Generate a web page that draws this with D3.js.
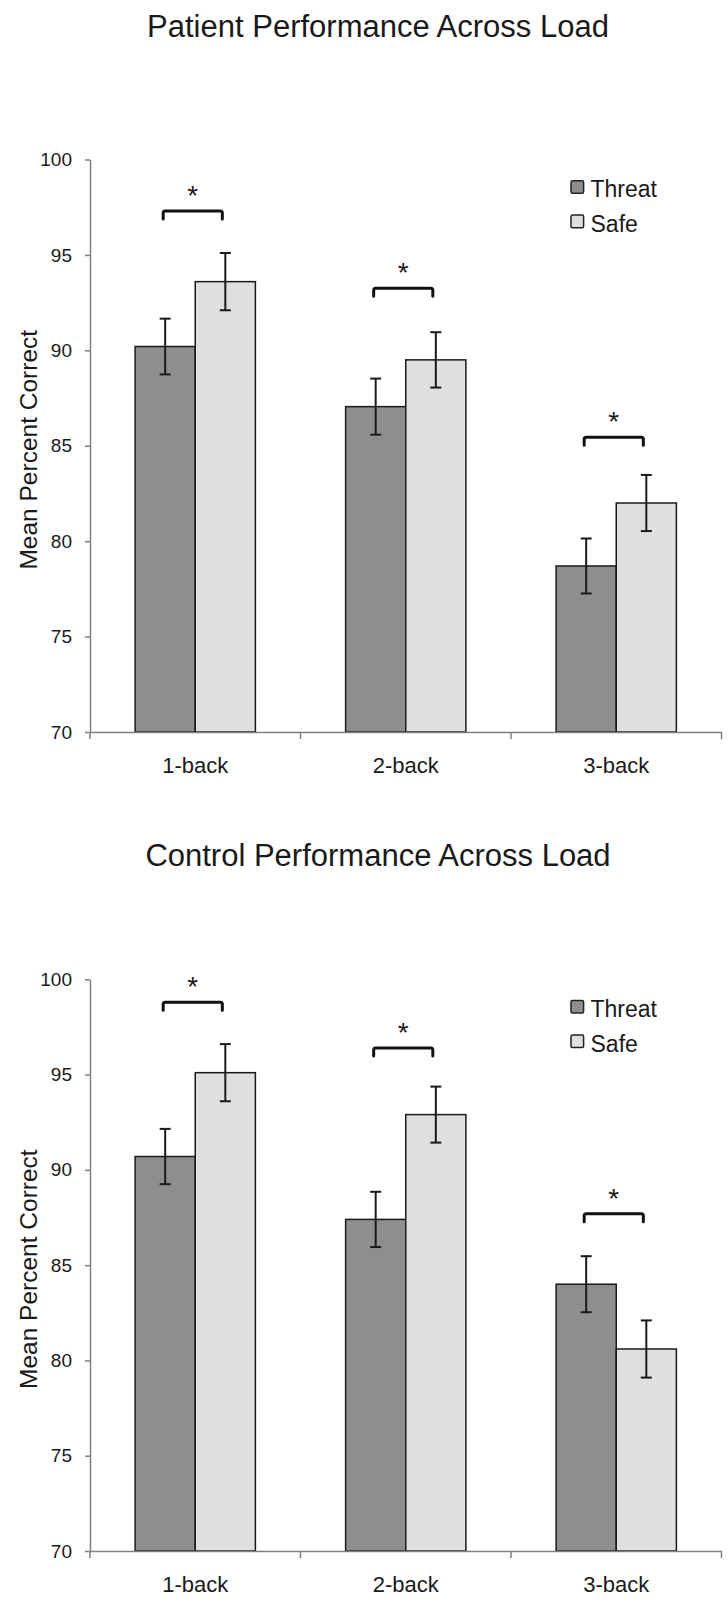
<!DOCTYPE html>
<meta charset="utf-8">
<html>
<head>
  <style>
    body { margin: 0; background: #fff; }
    svg { display: block; }
    text { font-family: "Liberation Sans", Arial, sans-serif; fill: #1a1a1a; }
    .title { font-size: 31px; text-anchor: middle; }
    .ylabel { font-size: 24.5px; text-anchor: middle; }
    .axis path, .axis line { stroke: #808080; stroke-width: 1.5px; }
    .yaxis text { font-size: 19px; }
    .xaxis text { font-size: 22px; }
    .bar { stroke: #1a1a1a; stroke-width: 1.5px; }
    .err { stroke: #1a1a1a; stroke-width: 2px; }
    .bracket { fill: none; stroke: #111; stroke-width: 3px; stroke-linejoin: round; stroke-linecap: round; }
    .star { font-size: 28px; text-anchor: middle; }
    .legend text { font-size: 23px; }
  </style>
</head>
<body>
<svg width="728" height="1603"></svg>

<script src="https://d3js.org/d3.v7.min.js"></script>
<script>

// Data
const categories = ["1-back", "2-back", "3-back"];
const series = ["Threat", "Safe"];
const yTicks = [70, 75, 80, 85, 90, 95, 100];

const patientThreat = [90.2, 87.05, 78.7];
const patientSafe = [93.6, 89.5, 82.0];
const patientThreatErr = [1.46, 1.47, 1.44];
const patientSafeErr = [1.5, 1.45, 1.47];
const patientBracket = [97.3, 93.25, 85.45];

const controlThreat = [90.7, 87.4, 84.0];
const controlSafe = [95.1, 92.9, 80.6];
const controlThreatErr = [1.45, 1.45, 1.47];
const controlSafeErr = [1.5, 1.47, 1.5];
const controlBracket = [98.8, 96.4, 87.7];

const colors = { Threat: "#8e8e8e", Safe: "#dfdfdf" };

const svg = d3.select("svg");

// x scales shared by both panels
const x0 = d3.scaleBand()
  .domain(categories)
  .range([90, 721.5])
  .paddingInner(0)
  .paddingOuter(0);

const x1 = d3.scaleBand()
  .domain(series)
  .range([0, x0.bandwidth()])
  .paddingInner(0)
  .paddingOuter(0.75);

function drawPanel(p) {
  const y = d3.scaleLinear().domain([70, 100]).range([p.yBottom, p.yTop]);
  const g = svg.append("g");

  g.append("text")
    .attr("class", "title")
    .attr("x", 378)
    .attr("y", p.titleY)
    .text(p.title);

  g.append("text")
    .attr("class", "ylabel")
    .attr("transform", `translate(28,${(p.yTop + p.yBottom) / 2 + 4}) rotate(-90)`)
    .attr("dy", "0.35em")
    .text("Mean Percent Correct");

  // bars + error bars
  const rows = categories.map((c, i) => ({
    cat: c,
    values: series.map(s => ({
      s: s,
      v: s === "Threat" ? p.threat[i] : p.safe[i],
      e: s === "Threat" ? p.threatErr[i] : p.safeErr[i]
    }))
  }));

  const grp = g.selectAll(".grp")
    .data(rows)
    .join("g")
    .attr("transform", d => `translate(${x0(d.cat)},0)`);

  grp.selectAll("rect")
    .data(d => d.values)
    .join("rect")
    .attr("class", "bar")
    .attr("x", d => x1(d.s))
    .attr("y", d => y(d.v))
    .attr("width", x1.bandwidth())
    .attr("height", d => y(70) - y(d.v))
    .attr("fill", d => colors[d.s]);

  const eb = grp.selectAll(".eb")
    .data(d => d.values)
    .join("g")
    .attr("class", "eb")
    .attr("transform", d => `translate(${x1(d.s) + x1.bandwidth() / 2},0)`);

  eb.append("line").attr("class", "err")
    .attr("y1", d => y(d.v + d.e)).attr("y2", d => y(d.v - d.e));
  eb.append("line").attr("class", "err")
    .attr("x1", -5.5).attr("x2", 5.5)
    .attr("y1", d => y(d.v + d.e)).attr("y2", d => y(d.v + d.e));
  eb.append("line").attr("class", "err")
    .attr("x1", -5.5).attr("x2", 5.5)
    .attr("y1", d => y(d.v - d.e)).attr("y2", d => y(d.v - d.e));

  // significance brackets
  categories.forEach((c, i) => {
    const xa = x0(c) + x1("Threat") + x1.bandwidth() / 2 - 2;
    const xb = x0(c) + x1("Safe") + x1.bandwidth() / 2 - 3;
    const yb = y(p.bracket[i]);
    g.append("path")
      .attr("class", "bracket")
      .attr("d", `M${xa},${yb + 8}V${yb + 2}Q${xa},${yb} ${xa + 2},${yb}H${xb - 2}Q${xb},${yb} ${xb},${yb + 2}V${yb + 8}`);
    g.append("text")
      .attr("class", "star")
      .attr("x", (xa + xb) / 2)
      .attr("y", yb - 6)
      .text("*");
  });

  // axes
  const yAxis = g.append("g")
    .attr("class", "axis yaxis")
    .attr("transform", "translate(90,0)")
    .call(d3.axisLeft(y).tickValues(yTicks).tickSize(5).tickPadding(13).tickSizeOuter(0));
  yAxis.selectAll("text").attr("fill", "#1a1a1a");

  const xAxis = g.append("g")
    .attr("class", "axis xaxis")
    .attr("transform", `translate(0,${p.yBottom})`)
    .call(d3.axisBottom(x0).tickSize(0).tickPadding(25).tickSizeOuter(0));
  xAxis.selectAll("text").attr("fill", "#1a1a1a");

  const bounds = categories.map(c => x0(c)).concat([x0.range()[1]]);
  xAxis.selectAll(".bound")
    .data(bounds)
    .join("line")
    .attr("class", "bound")
    .attr("x1", d => d).attr("x2", d => d)
    .attr("y1", 0).attr("y2", 7);

  // legend
  const lg = g.append("g").attr("class", "legend");
  series.forEach((s, i) => {
    const ly = p.yTop + 27.5 + i * 34.4;
    lg.append("rect")
      .attr("x", 571).attr("y", ly - 6.3)
      .attr("width", 12.6).attr("height", 12.6)
      .attr("rx", 1.5)
      .attr("fill", colors[s])
      .attr("stroke", "#222").attr("stroke-width", 1.5);
    lg.append("text")
      .attr("x", 590.5).attr("y", ly + 10.3)
      .text(s);
  });
}

drawPanel({
  title: "Patient Performance Across Load",
  titleY: 37,
  yTop: 159.5, yBottom: 732,
  threat: patientThreat, safe: patientSafe,
  threatErr: patientThreatErr, safeErr: patientSafeErr,
  bracket: patientBracket
});

drawPanel({
  title: "Control Performance Across Load",
  titleY: 866,
  yTop: 979.3, yBottom: 1551,
  threat: controlThreat, safe: controlSafe,
  threatErr: controlThreatErr, safeErr: controlSafeErr,
  bracket: controlBracket
});

</script>
</body>
</html>
